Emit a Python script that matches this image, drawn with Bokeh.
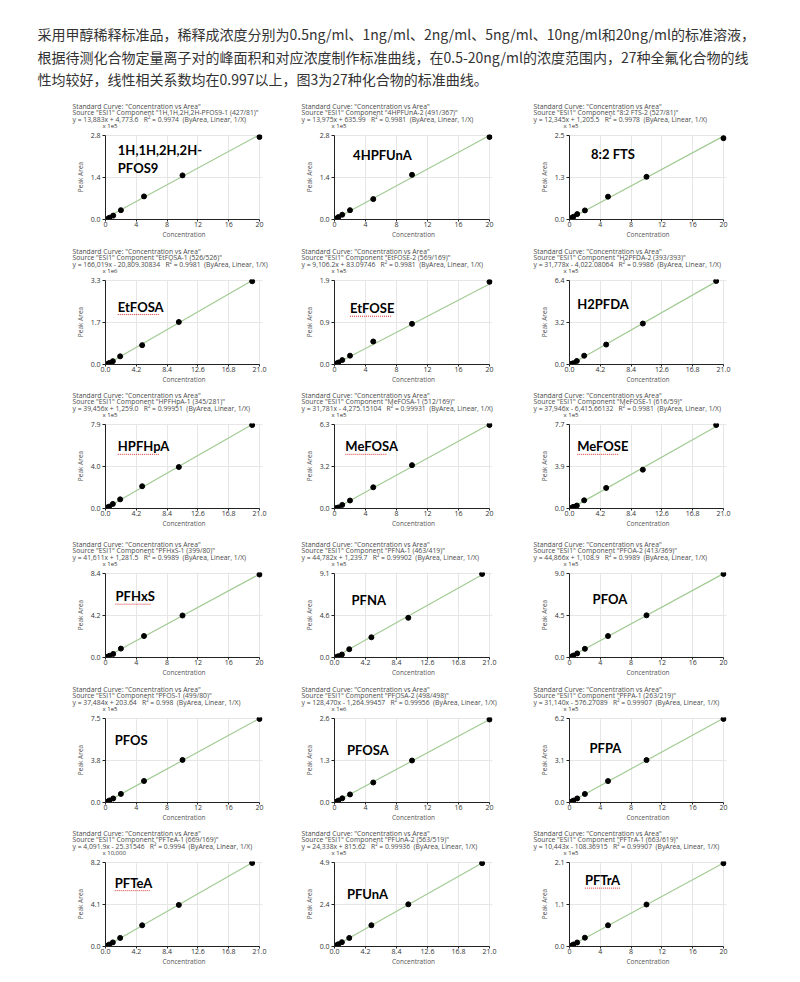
from bokeh.plotting import figure
from bokeh.models import Range1d, FixedTicker, Label, NumeralTickFormatter
from bokeh.layouts import column, row
from bokeh.embed import file_html
from bokeh.resources import INLINE
from bokeh.core.properties import value

# ---------------- data ----------------
paragraph = [
    "采用甲醇稀释标准品，稀释成浓度分别为0.5ng/ml、1ng/ml、2ng/ml、5ng/ml、10ng/ml和20ng/ml的标准溶液，",
    "根据待测化合物定量离子对的峰面积和对应浓度制作标准曲线，在0.5-20ng/ml的浓度范围内，27种全氟化合物的线",
    "性均较好，线性相关系数均在0.997以上，图3为27种化合物的标准曲线。",
]

concentration = [0.2, 0.5, 1, 2, 5, 10, 20]

names = ["1H,1H,2H,2H-\nPFOS9", "4HPFUnA", "8:2 FTS",
         "EtFOSA", "EtFOSE", "H2PFDA",
         "HPFHpA", "MeFOSA", "MeFOSE",
         "PFHxS", "PFNA", "PFOA",
         "PFOS", "PFOSA", "PFPA",
         "PFTeA", "PFUnA", "PFTrA"]

components = ["1H,1H,2H,2H-PFOS9-1 (427/81)", "4HPFUnA-2 (491/367)", "8:2 FTS-2 (527/81)",
              "EtFOSA-1 (526/526)", "EtFOSE-2 (569/169)", "H2PFDA-2 (393/393)",
              "HPFHpA-1 (345/281)", "MeFOSA-1 (512/169)", "MeFOSE-1 (616/59)",
              "PFHxS-1 (399/80)", "PFNA-1 (463/419)", "PFOA-2 (413/369)",
              "PFOS-1 (499/80)", "PFOSA-2 (498/498)", "PFPA-1 (263/219)",
              "PFTeA-1 (669/169)", "PFUnA-2 (563/519)", "PFTrA-1 (663/619)"]

equations = ["y = 13,883x + 4,773.6", "y = 13,975x + 635.99", "y = 12,345x + 1,205.5",
             "y = 166,019x - 20,809.30834", "y = 9,106.2x + 83.09746", "y = 31,778x - 4,022.08064",
             "y = 39,456x + 1,259.0", "y = 31,781x - 4,275.15104", "y = 37,946x - 6,415.66132",
             "y = 41,611x + 1,281.5", "y = 44,782x + 1,239.7", "y = 44,866x + 1,108.9",
             "y = 37,484x + 203.64", "y = 128,470x - 1,264.99457", "y = 31,140x - 576.27089",
             "y = 4,091.9x - 25.31546", "y = 24,338x + 815.62", "y = 10,443x - 108.36915"]

r_squared = ["0.9974", "0.9981", "0.9978",
             "0.9981", "0.9981", "0.9986",
             "0.99951", "0.99931", "0.9981",
             "0.9989", "0.99902", "0.9989",
             "0.998", "0.99956", "0.99907",
             "0.9994", "0.99936", "0.99907"]

slopes = [13883, 13975, 12345, 166019, 9106.2, 31778, 39456, 31781, 37946,
          41611, 44782, 44866, 37484, 128470, 31140, 4091.9, 24338, 10443]
intercepts = [4773.6, 635.99, 1205.5, -20809.30834, 83.09746, -4022.08064, 1259.0, -4275.15104, -6415.66132,
              1281.5, 1239.7, 1108.9, 203.64, -1264.99457, -576.27089, -25.31546, 815.62, -108.36915]

multiplier_labels = ["x 1e5", "x 1e5", "x 1e5", "x 1e6", "x 1e5", "x 1e5", "x 1e5", "x 1e5", "x 1e5",
                     "x 1e5", "x 1e5", "x 1e5", "x 1e5", "x 1e6", "x 1e5", "x 10,000", "x 1e5", "x 1e5"]
multipliers = [1e5, 1e5, 1e5, 1e6, 1e5, 1e5, 1e5, 1e5, 1e5,
               1e5, 1e5, 1e5, 1e5, 1e6, 1e5, 1e4, 1e5, 1e5]

x_max = [20, 20, 20, 21, 20, 21, 21, 20, 21, 20, 21, 20, 20, 20, 20, 21, 21, 20]
y_top = [2.8, 2.8, 2.5, 3.3, 1.9, 6.4, 7.9, 6.3, 7.7, 8.4, 9.1, 9.0, 7.5, 2.6, 6.2, 8.2, 4.9, 2.1]
y_mid_labels = ["1.4", "1.4", "1.3", "1.7", "0.9", "3.2", "4.0", "3.2", "3.9",
                "4.2", "4.6", "4.5", "3.8", "1.3", "3.1", "4.1", "2.4", "1.1"]

# peak areas (in units of the axis multiplier)
area_PFOS9 = [0.01, 0.06, 0.13, 0.31, 0.77, 1.47, 2.75]
area_4HPFUnA = [0.03, 0.08, 0.16, 0.31, 0.68, 1.49, 2.75]
area_82FTS = [0.04, 0.08, 0.16, 0.27, 0.68, 1.27, 2.42]
area_EtFOSA = [0.01, 0.06, 0.13, 0.32, 0.76, 1.67, 3.27]
area_EtFOSE = [0.02, 0.045, 0.10, 0.20, 0.52, 0.92, 1.87]
area_H2PFDA = [0.04, 0.10, 0.27, 0.67, 1.52, 3.12, 6.36]
area_HPFHpA = [0.09, 0.18, 0.43, 0.86, 2.09, 3.90, 7.85]
area_MeFOSA = [0.03, 0.08, 0.27, 0.60, 1.59, 3.25, 6.26]
area_MeFOSE = [0.03, 0.15, 0.27, 0.75, 1.89, 3.56, 7.65]
area_PFHxS = [0.07, 0.17, 0.36, 0.89, 2.15, 4.20, 8.30]
area_PFNA = [0.04, 0.14, 0.32, 0.90, 2.19, 4.30, 9.05]
area_PFOA = [0.09, 0.21, 0.44, 0.93, 2.30, 4.52, 8.95]
area_PFOS = [0.07, 0.18, 0.36, 0.77, 1.92, 3.80, 7.46]
area_PFOSA = [0.02, 0.06, 0.13, 0.25, 0.62, 1.30, 2.57]
area_PFPA = [0.05, 0.14, 0.30, 0.63, 1.58, 3.13, 6.17]
area_PFTeA = [0.07, 0.19, 0.40, 0.84, 2.07, 4.06, 8.15]
area_PFUnA = [0.06, 0.13, 0.25, 0.50, 1.24, 2.46, 4.86]
area_PFTrA = [0.02, 0.05, 0.10, 0.22, 0.53, 1.05, 2.08]

areas = [area_PFOS9, area_4HPFUnA, area_82FTS, area_EtFOSA, area_EtFOSE, area_H2PFDA,
         area_HPFHpA, area_MeFOSA, area_MeFOSE, area_PFHxS, area_PFNA, area_PFOA,
         area_PFOS, area_PFOSA, area_PFPA, area_PFTeA, area_PFUnA, area_PFTrA]

spellchecked = {"EtFOSA", "EtFOSE", "HPFHpA", "MeFOSA", "MeFOSE", "PFHxS", "PFTeA", "PFTrA"}

# ---------------- layout ----------------
name_pos = [(0.08, 0.83), (0.12, 0.77), (0.14, 0.78),
            (0.08, 0.69), (0.10, 0.67), (0.05, 0.72),
            (0.08, 0.74), (0.07, 0.74), (0.05, 0.74),
            (0.065, 0.73), (0.11, 0.68), (0.15, 0.70),
            (0.06, 0.74), (0.08, 0.63), (0.13, 0.65),
            (0.06, 0.76), (0.08, 0.63), (0.10, 0.79)]

PAGE_W = 792
TOP_H = 92
PADX = 3                       # extra room right of last x tick
PADY = 1                       # extra room above top y tick
FRAME_W = [154, 155, 154]      # x-axis length in px
B_LEFT = [105, 34, 30]
B_RIGHT = [41, 47, 72]
AXIS_H = 84                    # y-axis length in px
AXIS_TOP = [135, 280, 424, 573, 718, 862]   # page y of top y tick per row
B_TOP = 4
B_BOTTOM = 24
HEAD_X = [72, 301, 533]
HEAD_Y = [24.5, 18, 11.5]      # above the header strip bottom
MULT_X = [102, 331, 563]
MULT_Y = 4.2

SMALL_FONT = "Open Sans"
HEAD_COLOR = "#4a4a4a"


def panel(k, c):
    xm = x_max[k]
    top = y_top[k]
    fw = FRAME_W[c] + PADX
    fh = AXIS_H + PADY
    p = figure(frame_width=fw, frame_height=fh,
               min_border_left=B_LEFT[c], min_border_right=B_RIGHT[c] - PADX,
               min_border_top=B_TOP, min_border_bottom=B_BOTTOM,
               x_range=Range1d(0, xm * fw / FRAME_W[c]), y_range=Range1d(0, top * fh / AXIS_H),
               output_backend="svg", toolbar_location=None)
    p.outline_line_color = None

    if xm == 20:
        xt = [0, 4, 8, 12, 16, 20]
        p.xaxis.formatter = NumeralTickFormatter(format="0")
    else:
        xt = [0, 4.2, 8.4, 12.6, 16.8, 21]
        p.xaxis.formatter = NumeralTickFormatter(format="0.0")
    p.xaxis.ticker = FixedTicker(ticks=xt)
    p.xgrid.ticker = FixedTicker(ticks=xt)
    p.xaxis.bounds = (0, xm)
    yt = [0, top / 2, top]
    p.yaxis.ticker = FixedTicker(ticks=yt)
    p.ygrid.ticker = FixedTicker(ticks=yt)
    p.yaxis.bounds = (0, top)
    p.yaxis.major_label_overrides = {0: "0.0", top / 2: y_mid_labels[k], top: f"{top:.1f}"}

    p.grid.grid_line_color = "#e6e6e6"
    p.grid.grid_line_width = 1
    for ax in (p.xaxis[0], p.yaxis[0]):
        ax.axis_line_color = "#222222"
        ax.major_tick_line_color = "#222222"
        ax.major_tick_in = 0
        ax.minor_tick_line_color = None
        ax.major_label_text_font = SMALL_FONT
        ax.major_label_text_font_size = "7px"
        ax.major_label_text_color = "#333333"
        ax.axis_label_text_font = SMALL_FONT
        ax.axis_label_text_font_size = "6.5px"
        ax.axis_label_text_font_style = "normal"
        ax.axis_label_text_color = "#555555"
    p.xaxis.major_tick_out = 2
    p.yaxis.major_tick_out = 3
    p.xaxis.major_label_standoff = 0
    p.xaxis.axis_label_standoff = 0
    p.yaxis.major_label_standoff = 2
    p.yaxis.axis_label_standoff = 3
    p.xaxis.axis_label = "Concentration"
    p.yaxis.axis_label = "Peak Area"

    # fit line from the printed regression equation
    m = multipliers[k]
    x0, x1 = concentration[0], concentration[-1]
    p.line([x0, x1], [(slopes[k] * x0 + intercepts[k]) / m, (slopes[k] * x1 + intercepts[k]) / m],
           line_color="#a2cb94", line_width=1.2)
    p.scatter(concentration, areas[k], size=5, color="black")

    # compound name
    fx, fy = name_pos[k]
    for i, ln in enumerate(names[k].split("\n")):
        yy = fy * top - i * 18 * top / AXIS_H
        p.add_layout(Label(x=fx * xm, y=yy, text=ln, text_font="Lato", text_font_style="bold",
                           text_font_size="13px", text_color="black", text_baseline="middle"))
        if ln in spellchecked:
            wpx = len(ln) * 7.0
            uy = yy - 8 * top / AXIS_H
            p.line([fx * xm, fx * xm + wpx * xm / FRAME_W[c]], [uy, uy],
                   line_color="#e03030", line_width=1, line_dash="1 1")
    return p


def header_strip(r, height):
    s = figure(width=PAGE_W, height=height, x_range=Range1d(0, PAGE_W), y_range=Range1d(0, height),
               min_border=0, output_backend="svg", toolbar_location=None)
    s.axis.visible = False
    s.grid.visible = False
    s.outline_line_color = None
    xs, ys, texts = [], [], []
    for c in range(3):
        k = r * 3 + c
        heads = ['Standard Curve: "Concentration vs Area"',
                 f'Source "ESI1" Component "{components[k]}"',
                 f"{equations[k]}\u00a0\u00a0\u00a0R\u00b2 = {r_squared[k]}\u00a0\u00a0(ByArea, Linear, 1/X)"]
        for t, y in zip(heads, HEAD_Y):
            xs.append(HEAD_X[c]); ys.append(y); texts.append(t)
    s.text(x=xs, y=ys, text=texts, text_font=value(SMALL_FONT), text_font_size="6.8px",
           text_color=HEAD_COLOR, text_baseline="middle", text_align="left")
    s.text(x=MULT_X, y=[MULT_Y] * 3, text=multiplier_labels[r * 3:r * 3 + 3], text_font=value(SMALL_FONT),
           text_font_size="6px", text_color="#333333", text_baseline="middle", text_align="left")
    return s


# top paragraph
tp = figure(width=PAGE_W, height=TOP_H, x_range=Range1d(0, PAGE_W), y_range=Range1d(TOP_H, 0),
            min_border=0, output_backend="svg", toolbar_location=None)
tp.axis.visible = False
tp.grid.visible = False
tp.outline_line_color = None
tp.text(x=[37, 37, 37], y=[33, 56, 78], text=paragraph, text_font=value("Noto Sans CJK SC"),
        text_font_size="14px", text_baseline="middle", text_color="#333333")

children = [tp]
prev_bottom = TOP_H
for r in range(6):
    fig_top = AXIS_TOP[r] - PADY - B_TOP
    children.append(header_strip(r, fig_top - prev_bottom))
    children.append(row(*[panel(r * 3 + c, c) for c in range(3)]))
    prev_bottom = AXIS_TOP[r] + AXIS_H + B_BOTTOM

layout = column(*children)
open("out.html", "w").write(file_html(layout, INLINE))
